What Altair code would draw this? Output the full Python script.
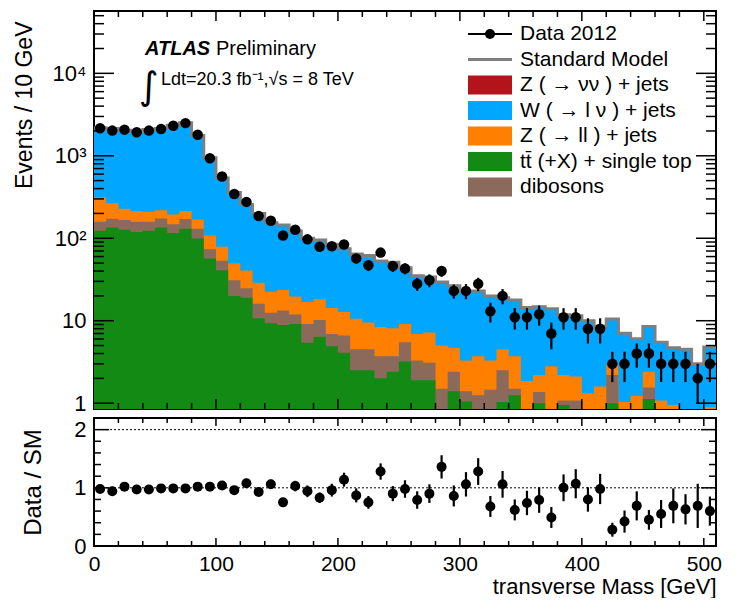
import altair as alt
import pandas as pd

FONT = "Liberation Sans"
X_MAX = 510
Y_MIN, Y_MAX = 0.85, 57000
R_MIN, R_MAX = 0.0, 2.2
W, H_TOP, H_BOT = 622, 398, 128

# ---------------- data ----------------
bin_lo = list(range(0, 510, 10))  # 10 GeV bins, 0-510

data_counts = [2157, 2020, 2075, 1933, 2020, 2115, 2316, 2490, 1797, 934,
               561, 344, 276, 186, 163, 108, 127, 97, 79, 80,
               84, 57, 47, 67, 46, 43, 28, 31, 40, 23,
               23, 28, 13, 20, 11, 11, 12, 7, 11, 11,
               8, 8, 3, 3, 4, 4, 3, 3, 3, 2, 3]
data_err = [47, 45, 46, 44, 45, 46, 48, 50, 42, 31,
            24, 19, 17, 14, 13, 10, 11, 10, 9, 9,
            9, 7.5, 7, 8, 7, 6.5, 5, 5.5, 6, 4.5,
            4.8, 5.2, 3.5, 4.2, 3.2, 3.2, 3.3, 2.5, 3.2, 3.2,
            2.7, 2.7, 1.2, 1.2, 1.3, 1.3, 1.2, 1.2, 1.2, 1.0, 1.2]

ratio = [0.98, 0.94, 1.02, 0.97, 0.97, 0.99, 0.99, 0.99, 1.02, 1.02,
         1.04, 0.96, 1.08, 0.93, 1.06, 0.75, 1.03, 0.94, 0.83, 0.96,
         1.14, 0.87, 0.75, 1.28, 0.90, 0.98, 0.79, 0.90, 1.36, 0.86,
         1.06, 1.28, 0.68, 1.06, 0.62, 0.74, 0.79, 0.49, 1.00, 1.07,
         0.80, 0.98, 0.28, 0.42, 0.69, 0.45, 0.55, 0.69, 0.63, 0.69, 0.60]
ratio_err = [0.02, 0.02, 0.02, 0.02, 0.02, 0.02, 0.02, 0.02, 0.03, 0.03,
             0.05, 0.05, 0.07, 0.07, 0.08, 0.07, 0.09, 0.10, 0.09, 0.11,
             0.12, 0.12, 0.11, 0.14, 0.13, 0.15, 0.15, 0.16, 0.20, 0.18,
             0.21, 0.23, 0.18, 0.23, 0.18, 0.21, 0.22, 0.18, 0.23, 0.25,
             0.21, 0.26, 0.12, 0.19, 0.25, 0.17, 0.24, 0.30, 0.26, 0.38, 0.25]

ttbar = [123, 135, 127, 119, 123, 135, 116, 130, 99, 57,
         41, 20, 19, 10.7, 9.3, 8.9, 9.1, 5.4, 6.4, 4.9,
         4.1, 2.5, 2.5, 2.0, 2.4, 3.2, 1.9, 1.9, 0.7, 1.4,
         1.05, 0.6, 0.6, 1.03, 1.25, 0.5, 1.0, 0.5, 0.95, 0.6,
         0.5, 0.5, 1.0, 0.4, 0.4, 1.12, 0.4, 0.3, 0.3, 0.3, 0.3]
dibosons = [36, 38, 39, 39, 36, 39, 32, 41, 31, 16.5,
            12.4, 11, 5.7, 5.4, 3.2, 4.4, 2.8, 3.7, 3.8, 2.0,
            2.5, 2.0, 2.0, 1.7, 1.3, 2.3, 1.4, 1.2, 0.8, 1.0,
            0.35, 0.65, 0.85, 1.47, 0.25, 0.1, 0.37, 0.1, 0.13, 0.48,
            0.1, 0.1, 1.2, 0.1, 0.1, 0.43, 0.1, 0.1, 0.1, 0.1, 0.1]
zll = [155, 94, 62, 56, 50, 45, 46, 43, 39, 34.5,
       25.5, 18.6, 16, 12.7, 10, 10.3, 7.8, 7.8, 8.1, 7.4,
       6.2, 6.1, 5.0, 4.7, 4.4, 3.6, 3.6, 4.1, 3.5, 2.3,
       1.9, 2.45, 1.85, 2.0, 2.2, 1.26, 0.83, 2.2, 1.12, 1.02,
       0.72, 0.99, 0.7, 0.53, 0.73, 0.85, 0.58, 0.55, 0.1, 0.1, 0.5]
wlnu = [1880, 1873, 1812, 1775, 1869, 1920, 2148, 2304, 1598, 842,
        460, 308, 216, 171, 131.5, 121, 103, 83, 77, 70,
        62, 54, 52.5, 44.6, 42.9, 34.9, 28.1, 26.8, 24.4, 21.8,
        19.7, 19.3, 16.7, 14.5, 14.1, 12.6, 12.6, 11.2, 9.6, 9.4,
        8.7, 7.0, 7.6, 6.0, 4.8, 6.1, 4.4, 3.75, 4.0, 2.5, 3.9]

comp_names = ["Z ( \u2192 \u03bd\u03bd ) + jets", "W ( \u2192 l \u03bd ) + jets",
              "Z ( \u2192 ll ) + jets", "tt\u0304 (+X) + single top", "dibosons"]
comp_colors = ["#b3141c", "#00a6ff", "#ff7f00", "#138a14", "#8b6a5b"]
leg_names = ["Data 2012", "Standard Model"]
SM_COLOR = "#7f7f7f"

# ---------------- tables ----------------
edges = bin_lo + [X_MAX]
cum_tt = list(ttbar)
cum_db = [a + b for a, b in zip(cum_tt, dibosons)]
cum_zll = [a + b for a, b in zip(cum_db, zll)]
cum_w = [a + b for a, b in zip(cum_zll, wlnu)]

rows = []
for name, vals in [(comp_names[1], cum_w), (comp_names[2], cum_zll),
                   (comp_names[4], cum_db), (comp_names[3], cum_tt)]:
    for e, v in zip(edges, vals + [vals[-1]]):
        rows.append({"comp": name, "x": e, "top": v})
stack_df = pd.DataFrame(rows)
sm_df = pd.DataFrame({"x": edges, "sm": cum_w + [cum_w[-1]]})

pts = pd.DataFrame({
    "x": [b + 5 for b in bin_lo],
    "data": data_counts,
    "lo": [d - e for d, e in zip(data_counts, data_err)],
    "hi": [d + e for d, e in zip(data_counts, data_err)],
    "ratio": ratio,
    "rlo": [r - e for r, e in zip(ratio, ratio_err)],
    "rhi": [r + e for r, e in zip(ratio, ratio_err)],
})

xsc = alt.Scale(domain=[0, X_MAX], nice=False, zero=False)
ysc = alt.Scale(type="log", domain=[Y_MIN, Y_MAX], nice=False)
rsc = alt.Scale(domain=[R_MIN, R_MAX], nice=False, zero=False)

y_axis_top = alt.Axis(title="Events / 10 GeV", values=[1, 10, 100, 1000, 10000],
                      labelExpr="datum.value == 1 ? '1' : datum.value == 10 ? '10' : "
                                "datum.value == 100 ? '10\u00b2' : datum.value == 1000 ? '10\u00b3' : '10\u2074'",
                      ticks=False, tickSize=0, domain=False, grid=False, labelFlush=False,
                      labelFont=FONT, labelFontSize=22, labelColor="black", labelPadding=8,
                      titleFont=FONT, titleFontSize=23, titleFontWeight="normal", titleColor="black",
                      titleAngle=270, titleAlign="right", titleBaseline="alphabetic",
                      titleX=-63, titleY=10)
x_axis_bot = alt.Axis(title="transverse Mass [GeV]", values=[0, 100, 200, 300, 400, 500], format="d",
                      ticks=False, tickSize=0, domain=False, grid=False, labelFlush=False,
                      labelFont=FONT, labelFontSize=21, labelColor="black", labelPadding=7,
                      titleFont=FONT, titleFontSize=22, titleFontWeight="normal", titleColor="black",
                      titleAlign="right", titleAnchor="end", titleBaseline="alphabetic",
                      titleX=W, titleY=47)
y_axis_bot = alt.Axis(title="Data / SM", values=[0, 1, 2], format="d",
                      ticks=False, tickSize=0, domain=False, grid=False, labelFlush=False,
                      labelFont=FONT, labelFontSize=22, labelColor="black", labelPadding=8,
                      titleFont=FONT, titleFontSize=24, titleFontWeight="normal", titleColor="black",
                      titleAngle=270, titleAlign="center", titleBaseline="alphabetic",
                      titleX=-54, titleY=H_BOT / 2)


def area_layer(name, color):
    return alt.Chart(stack_df).transform_filter(alt.datum.comp == name).mark_area(
        interpolate="step-after", clip=True, opacity=1, color=color).encode(
        x=alt.X("x:Q", scale=xsc, axis=None),
        y=alt.Y("top:Q", scale=ysc, stack=None, axis=y_axis_top),
        y2=alt.datum(Y_MIN),
    )


def yticks(vals, scale, axis, length, side, lw=1.5):
    x0, x1 = (0, length) if side == "left" else (W - length, W)
    return alt.Chart(pd.DataFrame({"v": vals})).mark_rule(color="black", strokeWidth=lw).encode(
        y=alt.Y("v:Q", scale=scale, axis=axis), x=alt.value(x0), x2=alt.value(x1))


def xticks(vals, axis, length, side, height, lw=1.5):
    y0, y1 = (0, length) if side == "top" else (height - length, height)
    return alt.Chart(pd.DataFrame({"v": vals})).mark_rule(color="black", strokeWidth=lw).encode(
        x=alt.X("v:Q", scale=xsc, axis=axis), y=alt.value(y0), y2=alt.value(y1))


y_major = [1, 10, 100, 1000, 10000]
y_minor = [m * d for d in [1, 10, 100, 1000] for m in range(2, 10)] + [20000, 30000, 40000, 50000]
x_major = [100, 200, 300, 400, 500]
x_minor = [v for v in range(20, 510, 20) if v % 100 != 0]
r_major = [1, 2]
r_minor = [0.2, 0.4, 0.6, 0.8, 1.2, 1.4, 1.6, 1.8]

layers_top = [area_layer(comp_names[1], comp_colors[1]), area_layer(comp_names[2], comp_colors[2]),
              area_layer(comp_names[4], comp_colors[4]), area_layer(comp_names[3], comp_colors[3])]

sm_line = alt.Chart(sm_df).mark_line(interpolate="step-after", color=SM_COLOR,
                                     strokeWidth=3, clip=True).encode(
    x=alt.X("x:Q", scale=xsc, axis=None), y=alt.Y("sm:Q", scale=ysc, axis=y_axis_top))

err_top = alt.Chart(pts).mark_rule(color="black", strokeWidth=2.2, clip=True).encode(
    x=alt.X("x:Q", scale=xsc, axis=None), y=alt.Y("lo:Q", scale=ysc, axis=y_axis_top), y2="hi:Q")
pts_top = alt.Chart(pts).mark_point(filled=True, shape="circle", size=110, color="black",
                                    opacity=1, clip=True).encode(
    x=alt.X("x:Q", scale=xsc, axis=None), y=alt.Y("data:Q", scale=ysc, axis=y_axis_top))


# ---------------- legend (drawn as a block of swatches + labels) ----------------
LEG_X, LEG_W, LEG_Y0, LEG_DY, SW_H = 374, 44, 23, 25.5, 19


def label_layer(text, cy):
    return alt.Chart(pd.DataFrame({"t": [text]})).mark_text(
        align="left", baseline="middle", font=FONT, fontSize=21, color="black").encode(
        x=alt.value(LEG_X + LEG_W + 8), y=alt.value(cy), text="t:N")


legend_layers = []
one = pd.DataFrame({"k": [0]})
cy = LEG_Y0
legend_layers.append(alt.Chart(one).mark_rule(color="black", strokeWidth=2).encode(
    x=alt.value(LEG_X), x2=alt.value(LEG_X + LEG_W), y=alt.value(cy)))
legend_layers.append(alt.Chart(one).mark_point(filled=True, shape="circle", size=100,
                                               color="black", opacity=1).encode(
    x=alt.value(LEG_X + LEG_W / 2), y=alt.value(cy)))
legend_layers.append(label_layer(leg_names[0], cy))
cy = LEG_Y0 + LEG_DY
legend_layers.append(alt.Chart(one).mark_rule(color=SM_COLOR, strokeWidth=3).encode(
    x=alt.value(LEG_X), x2=alt.value(LEG_X + LEG_W), y=alt.value(cy)))
legend_layers.append(label_layer(leg_names[1], cy))
for i, (name, col) in enumerate(zip(comp_names, comp_colors)):
    cy = LEG_Y0 + LEG_DY * (i + 2)
    legend_layers.append(alt.Chart(one).mark_rect(color=col).encode(
        x=alt.value(LEG_X), x2=alt.value(LEG_X + LEG_W),
        y=alt.value(cy - SW_H / 2), y2=alt.value(cy + SW_H / 2)))
    legend_layers.append(label_layer(name, cy))

atlas = alt.Chart(pd.DataFrame({"t": ["ATLAS"]})).mark_text(
    align="left", baseline="alphabetic", font=FONT, fontSize=20,
    fontWeight="bold", fontStyle="italic", color="black").encode(
    x=alt.value(51), y=alt.value(44), text="t:N")
prelim = alt.Chart(pd.DataFrame({"t": ["Preliminary"]})).mark_text(
    align="left", baseline="alphabetic", font=FONT, fontSize=20, color="black").encode(
    x=alt.value(122), y=alt.value(44), text="t:N")
integ = alt.Chart(pd.DataFrame({"t": ["\u222b"]})).mark_text(
    align="left", baseline="alphabetic", font="DejaVu Sans", fontSize=38, color="black").encode(
    x=alt.value(45), y=alt.value(88), text="t:N")
lumi = alt.Chart(pd.DataFrame({"t": ["Ldt=20.3 fb\u207b\u00b9,\u221as = 8 TeV"]})).mark_text(
    align="left", baseline="alphabetic", font=FONT, fontSize=18, color="black").encode(
    x=alt.value(67), y=alt.value(74), text="t:N")

ticks_top = [yticks(y_major, ysc, y_axis_top, 20, "left"), yticks(y_major, ysc, y_axis_top, 20, "right"),
             yticks(y_minor, ysc, y_axis_top, 10, "left"), yticks(y_minor, ysc, y_axis_top, 10, "right"),
             xticks(x_major, None, 10, "top", H_TOP), xticks(x_major, None, 10, "bottom", H_TOP),
             xticks(x_minor, None, 6, "top", H_TOP), xticks(x_minor, None, 6, "bottom", H_TOP)]

top = alt.layer(*layers_top, sm_line, err_top, pts_top, *ticks_top,
                atlas, prelim, integ, lumi, *legend_layers).properties(width=W, height=H_TOP)

# ---------------- ratio panel ----------------
ref_lines = alt.Chart(pd.DataFrame({"v": [1, 2]})).mark_rule(
    color="black", strokeWidth=1, strokeDash=[2, 2]).encode(y=alt.Y("v:Q", scale=rsc, axis=y_axis_bot))
err_bot = alt.Chart(pts).mark_rule(color="black", strokeWidth=2.2, clip=True).encode(
    x=alt.X("x:Q", scale=xsc, axis=x_axis_bot), y=alt.Y("rlo:Q", scale=rsc, axis=y_axis_bot), y2="rhi:Q")
pts_bot = alt.Chart(pts).mark_point(filled=True, shape="circle", size=100, color="black",
                                    opacity=1, clip=True).encode(
    x=alt.X("x:Q", scale=xsc, axis=x_axis_bot), y=alt.Y("ratio:Q", scale=rsc, axis=y_axis_bot))

ticks_bot = [yticks(r_major, rsc, y_axis_bot, 15, "left"), yticks(r_major, rsc, y_axis_bot, 15, "right"),
             yticks(r_minor, rsc, y_axis_bot, 7, "left"), yticks(r_minor, rsc, y_axis_bot, 7, "right"),
             xticks(x_major, x_axis_bot, 8, "top", H_BOT), xticks(x_major, x_axis_bot, 8, "bottom", H_BOT),
             xticks(x_minor, x_axis_bot, 5, "top", H_BOT), xticks(x_minor, x_axis_bot, 5, "bottom", H_BOT)]

bot = alt.layer(ref_lines, err_bot, pts_bot, *ticks_bot).properties(width=W, height=H_BOT)

chart = alt.vconcat(top, bot, spacing=9, bounds="flush").properties(
    padding={"left": 4, "top": 1, "right": 0, "bottom": 0}
).configure(font=FONT).configure_view(stroke="black", strokeWidth=2)

chart.save("out.html", embed_options={"renderer": "svg", "actions": False})
